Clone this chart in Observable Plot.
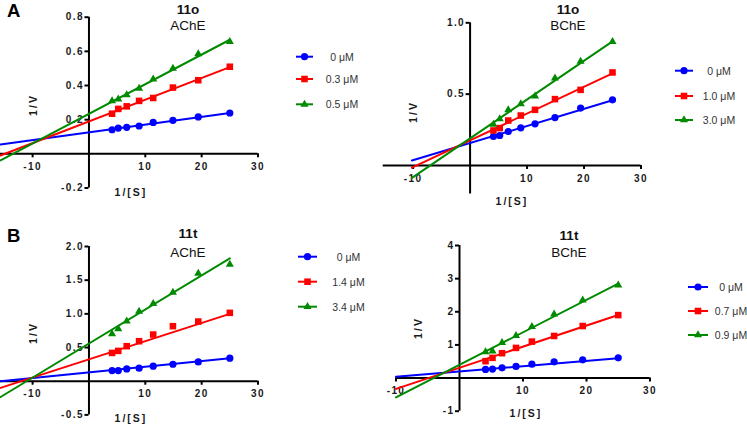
<!DOCTYPE html>
<html>
<head>
<meta charset="utf-8">
<script src="https://cdn.jsdelivr.net/npm/d3@7"></script>
<script src="https://cdn.jsdelivr.net/npm/@observablehq/plot@0.6"></script>
<style>
  html, body { margin: 0; padding: 0; background: #fff; }
  #fig { position: relative; width: 747px; height: 425px; overflow: hidden;
         font-family: Arial, "Liberation Sans", sans-serif; }
  #fig svg { position: absolute; left: 0; top: 0; }
  #fig svg.panel text { letter-spacing: 1.4px; }
</style>
</head>
<body>
<div id="fig"></div>
<script>
// ---- Lineweaver–Burk data: 1/[S] versus 1/V at three inhibitor concentrations ----
const invS = [4.1, 5.2, 6.7, 8.9, 11.4, 14.9, 19.4, 25];

const seriesColors  = ["#0000ff", "#ff0000", "#008a00"];
const seriesSymbols = ["circle", "square", "triangle"];

const panelCompounds = ["11o", "11o", "11t", "11t"];
const panelEnzymes   = ["AChE", "BChE", "AChE", "BChE"];
const panelLetters   = ["A", "B"];

// 11o / AChE
const doses11oAChE = ["0 μM", "0.3 μM", "0.5 μM"];
const inv11oAChE_0   = [0.141, 0.151, 0.155, 0.163, 0.184, 0.196, 0.216, 0.239];
const inv11oAChE_0p3 = [0.235, 0.263, 0.278, 0.310, 0.327, 0.388, 0.431, 0.510];
const inv11oAChE_0p5 = [0.310, 0.320, 0.345, 0.383, 0.437, 0.500, 0.585, 0.657];
const icpt11oAChE  = [0.126, 0.190, 0.234];
const slope11oAChE = [0.00455, 0.0127, 0.01736];

// 11o / BChE
const doses11oBChE = ["0 μM", "1.0 μM", "3.0 μM"];
const inv11oBChE_0   = [0.203, 0.210, 0.238, 0.264, 0.292, 0.336, 0.402, 0.460];
const inv11oBChE_1p0 = [0.245, 0.262, 0.315, 0.350, 0.390, 0.465, 0.530, 0.652];
const inv11oBChE_3p0 = [0.287, 0.327, 0.390, 0.432, 0.486, 0.612, 0.729, 0.867];
const icpt11oBChE  = [0.157, 0.176, 0.190];
const slope11oBChE = [0.0120, 0.0188, 0.0272];

// 11t / AChE
const doses11tAChE = ["0 μM", "1.4 μM", "3.4 μM"];
const inv11tAChE_0   = [0.158, 0.158, 0.183, 0.193, 0.223, 0.252, 0.287, 0.342];
const inv11tAChE_1p4 = [0.420, 0.450, 0.520, 0.594, 0.693, 0.817, 0.886, 1.015];
const inv11tAChE_3p4 = [0.703, 0.777, 0.890, 1.035, 1.153, 1.320, 1.600, 1.733];
const icpt11tAChE  = [0.132, 0.325, 0.560];
const slope11tAChE = [0.0084, 0.0270, 0.0506];

// 11t / BChE
const doses11tBChE = ["0 μM", "0.7 μM", "0.9 μM"];
const inv11tBChE_0   = [0.26, 0.27, 0.31, 0.35, 0.42, 0.49, 0.55, 0.61];
const inv11tBChE_0p7 = [0.51, 0.61, 0.75, 0.91, 1.10, 1.27, 1.57, 1.90];
const inv11tBChE_0p9 = [0.79, 0.81, 1.07, 1.28, 1.55, 1.93, 2.35, 2.80];
const icpt11tBChE  = [0.20, 0.31, 0.40];
const slope11tBChE = [0.016, 0.0637, 0.098];

// tick values and their labels
const xTicks = [-10, 10, 20, 30];
const xTickLabels = ["-10", "10", "20", "30"];
const yTicks11oAChE = [-0.2, 0.2, 0.4, 0.6, 0.8];
const yTickLabels11oAChE = ["-0.2", "0.2", "0.4", "0.6", "0.8"];
const yTicks11oBChE = [0.5, 1.0];
const yTickLabels11oBChE = ["0.5", "1.0"];
const yTicks11tAChE = [-0.5, 0.5, 1.0, 1.5, 2.0];
const yTickLabels11tAChE = ["-0.5", "0.5", "1.0", "1.5", "2.0"];
const yTicks11tBChE = [-1, 1, 2, 3, 4];
const yTickLabels11tBChE = ["-1", "1", "2", "3", "4"];

const xFitEnd = 25;

// ---- panel assembly ----
const panels = [
  { values: [inv11oAChE_0, inv11oAChE_0p3, inv11oAChE_0p5], icpt: icpt11oAChE, slope: slope11oAChE,
    doses: doses11oAChE, yTicks: yTicks11oAChE, yLabels: yTickLabels11oAChE,
    xDomain: [-15.7, 30], yDomain: [-0.2, 0.8], fitStart: -15.7,
    xRange: [0, 257.5], yRange: [187.5, 16.7],
    title: [188, 9, 25.5], ylab: [33, 105], xlab: [131, 192],
    legend: { x0: 296, x1: 313, tx: 342, rows: [56.7, 79, 104.3] } },
  { values: [inv11oBChE_0, inv11oBChE_1p0, inv11oBChE_3p0], icpt: icpt11oBChE, slope: slope11oBChE,
    doses: doses11oBChE, yTicks: yTicks11oBChE, yLabels: yTickLabels11oBChE,
    xDomain: [-15.25, 30], yDomain: [-0.2, 1.0], fitStart: -10.2,
    xRange: [382.7, 640.5], yRange: [193.5, 22.3],
    title: [568, 9, 25.5], ylab: [413, 112], xlab: [512, 201],
    legend: { x0: 675, x1: 693, tx: 719, rows: [70.7, 96, 120] } },
  { values: [inv11tAChE_0, inv11tAChE_1p4, inv11tAChE_3p4], icpt: icpt11tAChE, slope: slope11tAChE,
    doses: doses11tAChE, yTicks: yTicks11tAChE, yLabels: yTickLabels11tAChE,
    xDomain: [-15.7, 30], yDomain: [-0.5, 2.0], fitStart: -15.7,
    xRange: [0, 257.5], yRange: [414.4, 246],
    title: [188, 233.5, 252], ylab: [33, 333], xlab: [131, 418],
    legend: { x0: 298, x1: 317, tx: 348.5, rows: [256.7, 281.7, 306.7] } },
  { values: [inv11tBChE_0, inv11tBChE_0p7, inv11tBChE_0p9], icpt: icpt11tBChE, slope: slope11tBChE,
    doses: doses11tBChE, yTicks: yTicks11tBChE, yLabels: yTickLabels11tBChE,
    xDomain: [-10, 30], yDomain: [-1, 4], fitStart: -10,
    xRange: [395.5, 649.5], yRange: [410.7, 245],
    title: [569, 235, 252.5], ylab: [418, 328], xlab: [526, 413],
    legend: { x0: 688, x1: 708, tx: 731, rows: [287, 311, 335] } }
];

const W = 747, H = 425;
const markerR = [3.6, 3.7, 3.0];
const tickFont = { fontSize: 10, fontWeight: "bold", fill: "#1a1a1a", fontFamily: "Arial, 'Liberation Sans', sans-serif" };
const fig = document.getElementById("fig");

panels.forEach((p, pi) => {
  const marks = [
    // tick labels sit beneath the data
    Plot.text(xTicks, { x: d => d, y: () => 0, text: (d, i) => xTickLabels[i], dy: 13, ...tickFont }),
    Plot.text(p.yTicks, { x: () => 0, y: d => d, text: (d, i) => p.yLabels[i], textAnchor: "end", dx: -5, ...tickFont }),
    // axes crossing at the origin
    Plot.ruleY([0], { stroke: "#000", strokeWidth: 2 }),
    Plot.ruleX([0], { stroke: "#000", strokeWidth: 2 }),
    Plot.ruleX(xTicks, { x: d => d, y1: () => 0, y2: () => 0, insetBottom: -4, stroke: "#000", strokeWidth: 2 }),
    Plot.ruleY(p.yTicks, { y: d => d, x1: () => 0, x2: () => 0, insetLeft: -4, stroke: "#000", strokeWidth: 2 })
  ];
  p.values.forEach((ys, k) => {
    const fit = [p.fitStart, xFitEnd].map(x => ({ x, y: p.icpt[k] + p.slope[k] * x }));
    marks.push(Plot.line(fit, { x: "x", y: "y", stroke: seriesColors[k], strokeWidth: 2 }));
  });
  p.values.forEach((ys, k) => {
    const pts = ys.map((v, i) => ({ x: invS[i], y: v }));
    marks.push(Plot.dot(pts, { x: "x", y: "y", fill: seriesColors[k], stroke: "none",
                               symbol: seriesSymbols[k], r: markerR[k] }));
  });
  const svg = Plot.plot({
    width: W, height: H,
    marginLeft: p.xRange[0], marginRight: W - p.xRange[1],
    marginTop: p.yRange[1], marginBottom: H - p.yRange[0],
    x: { domain: p.xDomain, axis: null },
    y: { domain: p.yDomain, axis: null },
    className: "panel",
    style: { background: "transparent", overflow: "visible" },
    marks
  });
  svg.classList.add("panel");
  fig.appendChild(svg);
});

// ---- titles, axis labels, panel letters and legends ----
const ov = d3.select(fig).append("svg").attr("width", W).attr("height", H)
  .style("font-family", "Arial, 'Liberation Sans', sans-serif");

ov.append("text").attr("x", 7).attr("y", 17).attr("font-size", 18.5).attr("font-weight", "bold").text(panelLetters[0]);
ov.append("text").attr("x", 7).attr("y", 242).attr("font-size", 18.5).attr("font-weight", "bold").text(panelLetters[1]);

const symGen = t => d3.symbol().type({ circle: d3.symbolCircle, square: d3.symbolSquare, triangle: d3.symbolTriangle }[t]);

panels.forEach((p, pi) => {
  const [tx, ty1, ty2] = p.title;
  ov.append("text").attr("x", tx).attr("y", ty1).attr("text-anchor", "middle").attr("dominant-baseline", "central")
    .attr("font-size", 13.5).attr("font-weight", "bold").attr("fill", "#111").text(panelCompounds[pi]);
  ov.append("text").attr("x", tx).attr("y", ty2).attr("text-anchor", "middle").attr("dominant-baseline", "central")
    .attr("font-size", 13.5).attr("fill", "#111").text(panelEnzymes[pi]);

  ov.append("text").attr("transform", `translate(${p.ylab[0]},${p.ylab[1]}) rotate(-90)`)
    .attr("text-anchor", "middle").attr("dominant-baseline", "central")
    .attr("font-size", 10.5).attr("font-weight", "bold").attr("letter-spacing", "2px").attr("fill", "#1a1a1a").text("1/V");
  ov.append("text").attr("x", p.xlab[0]).attr("y", p.xlab[1])
    .attr("text-anchor", "middle").attr("dominant-baseline", "central")
    .attr("font-size", 10.5).attr("font-weight", "bold").attr("letter-spacing", "2px").attr("fill", "#1a1a1a").text("1/[S]");

  const L = p.legend;
  p.doses.forEach((label, k) => {
    const y = L.rows[k];
    ov.append("line").attr("x1", L.x0).attr("x2", L.x1).attr("y1", y).attr("y2", y)
      .attr("stroke", seriesColors[k]).attr("stroke-width", 2);
    const r = markerR[k];
    ov.append("path").attr("transform", `translate(${(L.x0 + L.x1) / 2},${y})`)
      .attr("d", symGen(seriesSymbols[k]).size(Math.PI * r * r)()).attr("fill", seriesColors[k]);
    ov.append("text").attr("x", L.tx).attr("y", y).attr("text-anchor", "middle").attr("dominant-baseline", "central")
      .attr("font-size", 10.5).attr("fill", "#333").text(label);
  });
});
</script>
</body>
</html>
